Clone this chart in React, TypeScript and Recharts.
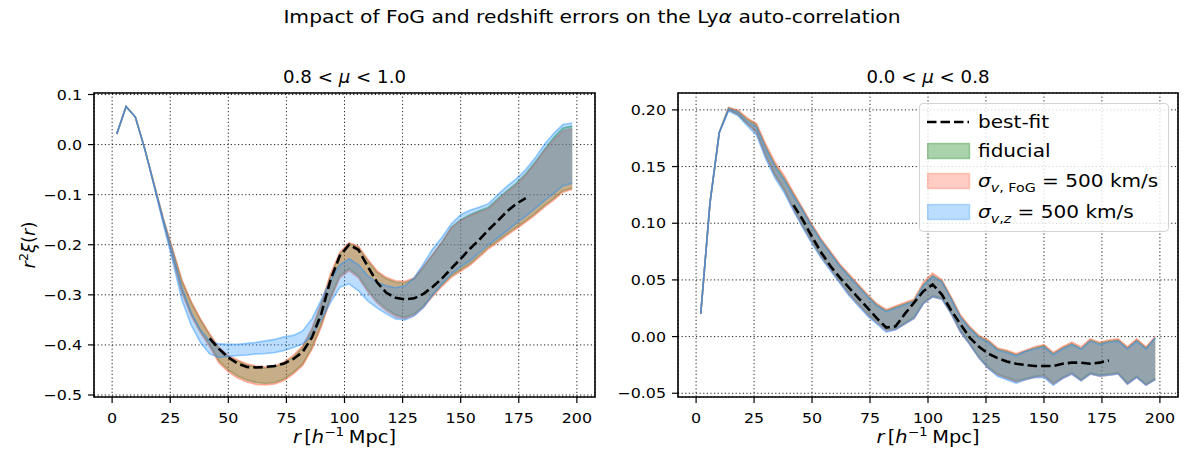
import React from 'react'
import {
  ComposedChart,
  Area,
  Line,
  XAxis,
  YAxis,
  CartesianGrid,
  ReferenceArea,
  Legend,
} from 'recharts'

// separation bins, h^-1 Mpc
const R = [
  2, 6, 10, 14, 18, 22, 26, 30, 34, 38, 42, 46, 50, 54, 58, 62, 66, 70, 74, 78, 82, 86, 90, 94, 98,
  102, 106, 110, 114, 118, 122, 126, 130, 134, 138, 142, 146, 150, 154, 158, 162, 166, 170, 174, 178,
  182, 186, 190, 194, 198,
]

// ---- left panel, 0.8 < mu < 1.0 ----
const L_FID_HI = [
  0.021, 0.076, 0.055, -0.008, -0.078, -0.148, -0.21, -0.272, -0.315, -0.35, -0.38, -0.408, -0.424,
  -0.432, -0.44, -0.444, -0.446, -0.444, -0.436, -0.424, -0.405, -0.37, -0.32, -0.262, -0.218, -0.198,
  -0.205, -0.232, -0.255, -0.268, -0.275, -0.276, -0.268, -0.245, -0.22, -0.195, -0.165, -0.15, -0.14,
  -0.132, -0.125, -0.108, -0.092, -0.077, -0.058, -0.035, -0.01, 0.014, 0.033, 0.037,
]
const L_FID_LO = [
  0.021, 0.076, 0.055, -0.008, -0.08, -0.152, -0.222, -0.292, -0.338, -0.372, -0.4, -0.432, -0.45,
  -0.462, -0.47, -0.475, -0.477, -0.475, -0.468, -0.455, -0.438, -0.405, -0.36, -0.305, -0.262, -0.248,
  -0.262, -0.29, -0.312, -0.328, -0.34, -0.345, -0.338, -0.322, -0.3, -0.28, -0.262, -0.25, -0.238,
  -0.222, -0.205, -0.192, -0.178, -0.165, -0.152, -0.138, -0.122, -0.108, -0.092, -0.087,
]
const L_FOG_HI = [
  0.021, 0.076, 0.055, -0.008, -0.077, -0.147, -0.208, -0.27, -0.313, -0.348, -0.378, -0.405, -0.421,
  -0.43, -0.438, -0.442, -0.444, -0.442, -0.434, -0.421, -0.402, -0.366, -0.316, -0.258, -0.215, -0.196,
  -0.203, -0.229, -0.252, -0.265, -0.272, -0.273, -0.266, -0.243, -0.219, -0.194, -0.166, -0.152, -0.142,
  -0.135, -0.128, -0.111, -0.095, -0.08, -0.061, -0.038, -0.013, 0.009, 0.027, 0.031,
]
const L_FOG_LO = [
  0.021, 0.076, 0.055, -0.008, -0.081, -0.154, -0.225, -0.296, -0.342, -0.376, -0.404, -0.436, -0.454,
  -0.466, -0.474, -0.479, -0.48, -0.478, -0.471, -0.458, -0.441, -0.409, -0.364, -0.309, -0.266, -0.252,
  -0.266, -0.294, -0.316, -0.332, -0.344, -0.348, -0.341, -0.325, -0.303, -0.283, -0.265, -0.253, -0.241,
  -0.225, -0.208, -0.195, -0.181, -0.168, -0.155, -0.141, -0.125, -0.111, -0.095, -0.089,
]
const L_Z_HI = [
  0.021, 0.076, 0.055, -0.008, -0.079, -0.15, -0.215, -0.285, -0.335, -0.37, -0.392, -0.398, -0.399,
  -0.399, -0.397, -0.395, -0.392, -0.389, -0.384, -0.381, -0.372, -0.348, -0.31, -0.27, -0.24, -0.228,
  -0.24, -0.262, -0.275, -0.282, -0.286, -0.282, -0.266, -0.238, -0.208, -0.185, -0.158, -0.14, -0.131,
  -0.125, -0.118, -0.1, -0.083, -0.068, -0.05, -0.027, 0.0, 0.022, 0.04, 0.043,
]
const L_Z_LO = [
  0.021, 0.076, 0.055, -0.008, -0.082, -0.158, -0.232, -0.31, -0.36, -0.395, -0.418, -0.425, -0.423,
  -0.421, -0.42, -0.418, -0.417, -0.415, -0.411, -0.405, -0.398, -0.382, -0.35, -0.315, -0.285, -0.278,
  -0.292, -0.312, -0.326, -0.338, -0.348, -0.35, -0.342, -0.325, -0.3, -0.278, -0.258, -0.244, -0.232,
  -0.216, -0.2, -0.186, -0.172, -0.157, -0.143, -0.128, -0.112, -0.098, -0.082, -0.077,
]
const L_BEST = [
  null, null, null, null, null, null, null, null, null, null,
  -0.387, -0.408, -0.425, -0.437, -0.444, -0.445, -0.444, -0.442, -0.437, -0.428, -0.414, -0.385, -0.338,
  -0.27, -0.222, -0.2, -0.21, -0.243, -0.275, -0.296, -0.306, -0.309, -0.307, -0.298, -0.284, -0.267,
  -0.247, -0.228, -0.208, -0.19, -0.17, -0.152, -0.133, -0.118, -0.107,
  null, null, null, null, null,
]

// ---- right panel, 0.0 < mu < 0.8 ----
const R_FID_HI = [
  0.02, 0.118, 0.18, 0.202, 0.199, 0.192, 0.187, 0.168, 0.152, 0.14, 0.126, 0.112, 0.098, 0.085, 0.074,
  0.063, 0.054, 0.045, 0.036, 0.028, 0.023, 0.026, 0.029, 0.032, 0.046, 0.054, 0.049, 0.034, 0.018, 0.008,
  0.0, -0.004, -0.011, -0.013, -0.016, -0.013, -0.01, -0.008, -0.015, -0.01, -0.006, -0.011, -0.003,
  -0.006, -0.004, -0.003, -0.01, -0.003, -0.01, -0.001,
]
const R_FID_LO = [
  0.02, 0.118, 0.18, 0.2, 0.196, 0.188, 0.181, 0.16, 0.143, 0.13, 0.113, 0.098, 0.084, 0.071, 0.06,
  0.049, 0.038, 0.029, 0.02, 0.013, 0.006, 0.007, 0.012, 0.017, 0.03, 0.036, 0.034, 0.021, 0.005, -0.006,
  -0.018, -0.027, -0.033, -0.036, -0.039, -0.037, -0.035, -0.034, -0.041, -0.036, -0.032, -0.038,
  -0.032, -0.034, -0.033, -0.032, -0.041, -0.035, -0.042, -0.037,
]
const R_FOG_HI = [
  0.02, 0.118, 0.18, 0.202, 0.2, 0.193, 0.188, 0.17, 0.154, 0.142, 0.127, 0.113, 0.099, 0.086, 0.075,
  0.064, 0.055, 0.046, 0.037, 0.029, 0.024, 0.027, 0.03, 0.033, 0.048, 0.056, 0.05, 0.035, 0.019, 0.009,
  0.001, -0.003, -0.01, -0.012, -0.015, -0.012, -0.009, -0.007, -0.014, -0.009, -0.005, -0.009, -0.002,
  -0.005, -0.003, -0.002, -0.009, -0.002, -0.009, 0.0,
]
const R_FOG_LO = [
  0.02, 0.118, 0.18, 0.2, 0.196, 0.188, 0.18, 0.159, 0.142, 0.129, 0.112, 0.097, 0.083, 0.07, 0.059,
  0.048, 0.037, 0.028, 0.019, 0.012, 0.005, 0.006, 0.011, 0.016, 0.029, 0.035, 0.033, 0.02, 0.004,
  -0.007, -0.019, -0.028, -0.034, -0.037, -0.04, -0.038, -0.036, -0.035, -0.042, -0.037, -0.033, -0.039,
  -0.033, -0.035, -0.034, -0.033, -0.042, -0.036, -0.043, -0.038,
]
const R_Z_HI = [
  0.02, 0.118, 0.18, 0.201, 0.198, 0.19, 0.185, 0.166, 0.15, 0.138, 0.124, 0.111, 0.097, 0.084, 0.073,
  0.062, 0.053, 0.044, 0.035, 0.027, 0.022, 0.025, 0.028, 0.031, 0.045, 0.053, 0.048, 0.033, 0.017, 0.007,
  -0.001, -0.005, -0.012, -0.014, -0.017, -0.013, -0.011, -0.009, -0.016, -0.011, -0.007, -0.011,
  -0.004, -0.007, -0.005, -0.004, -0.011, -0.004, -0.011, -0.001,
]
const R_Z_LO = [
  0.02, 0.118, 0.18, 0.199, 0.195, 0.186, 0.178, 0.157, 0.14, 0.127, 0.111, 0.096, 0.082, 0.069, 0.058,
  0.047, 0.036, 0.027, 0.018, 0.011, 0.004, 0.006, 0.011, 0.016, 0.029, 0.035, 0.033, 0.02, 0.004,
  -0.007, -0.019, -0.028, -0.035, -0.038, -0.041, -0.038, -0.036, -0.036, -0.043, -0.037, -0.033, -0.039,
  -0.033, -0.035, -0.034, -0.033, -0.042, -0.036, -0.043, -0.038,
]
const R_BEST = [
  null, null, null, null, null, null, null, null, null, null,
  0.116, 0.103, 0.088, 0.074, 0.062, 0.052, 0.043, 0.034, 0.025, 0.016, 0.008, 0.009, 0.02, 0.03, 0.04,
  0.046, 0.037, 0.023, 0.011, -0.001, -0.009, -0.015, -0.019, -0.022, -0.024, -0.025, -0.026, -0.026,
  -0.026, -0.024, -0.023, -0.023, -0.024, -0.023, -0.021,
  null, null, null, null, null,
]

const X_TICKS = [0, 25, 50, 75, 100, 125, 150, 175, 200]
const X_DOMAIN: [number, number] = [-7.8, 207.8]
const L_TICKS = [-0.5, -0.4, -0.3, -0.2, -0.1, 0.0, 0.1]
const R_TICKS = [-0.05, 0.0, 0.05, 0.1, 0.15, 0.2]

const FID_COLOR = '#228b22'
const FOG_COLOR = '#ff6347'
const Z_COLOR = '#1e90ff'
const FONT = '"DejaVu Sans", sans-serif'
// the source figure's text is a bit wider than plain DejaVu Sans
const SX = 1.14

const buildData = (
  fidLo: number[], fidHi: number[], fogLo: number[], fogHi: number[],
  zLo: number[], zHi: number[], best: (number | null)[],
) =>
  R.map((r, i) => ({
    r,
    fid: [fidLo[i], fidHi[i]],
    fog: [fogLo[i], fogHi[i]],
    z: [zLo[i], zHi[i]],
    best: best[i],
  }))

const leftData = buildData(L_FID_LO, L_FID_HI, L_FOG_LO, L_FOG_HI, L_Z_LO, L_Z_HI, L_BEST)
const rightData = buildData(R_FID_LO, R_FID_HI, R_FOG_LO, R_FOG_HI, R_Z_LO, R_Z_HI, R_BEST)

const minus = (s: string) => s.replace('-', '\u2212')

const makeTick = (axis: 'x' | 'y', digits: number) => (props: any) => {
  const { x, y, payload } = props
  const label = axis === 'x' ? String(payload.value) : minus(Number(payload.value).toFixed(digits))
  return (
    <g transform={`translate(${x} ${y}) scale(${SX} 1)`}>
      <text
        x={0}
        y={0}
        textAnchor={axis === 'x' ? 'middle' : 'end'}
        dy={axis === 'x' ? '0.71em' : '0.36em'}
        fontSize={13.9}
        fill="#000"
      >
        {label}
      </text>
    </g>
  )
}

const SText = ({ x, y, size, sx = SX, children }: { x: number; y: number; size: number; sx?: number; children: React.ReactNode }) => (
  <g transform={`translate(${x} ${y}) scale(${sx} 1)`}>
    <text x={0} y={0} textAnchor="middle" fontSize={size} fill="#000">
      {children}
    </text>
  </g>
)

const LegendBox = () => {
  const row = (top: number, sym: React.ReactNode, label: React.ReactNode) => (
    <div style={{ position: 'absolute', left: 0, top, height: 30, width: '100%' }}>
      <svg width={44} height={30} style={{ position: 'absolute', left: 7, top: 0 }}>{sym}</svg>
      <div
        style={{
          position: 'absolute', left: 58, top: 3, fontSize: 17.6, lineHeight: '24px', whiteSpace: 'nowrap',
          transform: `scaleX(${SX})`, transformOrigin: 'left center',
        }}
      >
        {label}
      </div>
    </div>
  )
  const swatch = (c: string, op: number) => (
    <rect x={0.5} y={7.5} width={42} height={15} fill={c} fillOpacity={op} stroke={c} strokeOpacity={op} strokeWidth={1.5} />
  )
  return (
    <div
      style={{
        position: 'relative', width: 250, height: 129, boxSizing: 'border-box',
        border: '1px solid #d3d3d3', borderRadius: 4, background: 'rgba(255,255,255,0.8)',
        fontFamily: FONT, color: '#000',
      }}
    >
      {row(3, <line x1={0} y1={15} x2={42} y2={15} stroke="#000" strokeWidth={2.6} strokeDasharray="9.5 4" />, 'best-fit')}
      {row(32, swatch(FID_COLOR, 0.38), 'fiducial')}
      {row(62, swatch(FOG_COLOR, 0.32), (
        <span><i>σ</i><sub style={{ fontSize: 12.5 }}><i>v</i>, FoG</sub> = 500 km/s</span>
      ))}
      {row(93, swatch(Z_COLOR, 0.3), (
        <span><i>σ</i><sub style={{ fontSize: 12.5 }}><i>v</i>,<i>z</i></sub> = 500 km/s</span>
      ))}
    </div>
  )
}

interface PanelProps {
  data: ReturnType<typeof buildData>
  yDomain: [number, number]
  yTicks: number[]
  digits: number
  width: number
  yAxisWidth: number
  rightMargin: number
  showLegend?: boolean
}

const Panel: React.FC<PanelProps> = ({ data, yDomain, yTicks, digits, width, yAxisWidth, rightMargin, showLegend }) => (
  <ComposedChart
    width={width}
    height={458}
    data={data}
    margin={{ top: 93, right: rightMargin, bottom: 0, left: 0 }}
    style={{ fontFamily: FONT }}
  >
    <XAxis
      dataKey="r"
      type="number"
      domain={X_DOMAIN}
      ticks={X_TICKS}
      allowDataOverflow
      height={61}
      axisLine={false}
      tickSize={6}
      tickMargin={10}
      tickLine={{ stroke: '#000', strokeWidth: 1.2 }}
      tick={makeTick('x', 0)}
    />
    <YAxis
      type="number"
      domain={yDomain}
      ticks={yTicks}
      allowDataOverflow
      width={yAxisWidth}
      axisLine={false}
      tickSize={6}
      tickMargin={6}
      tickLine={{ stroke: '#000', strokeWidth: 1.2 }}
      tick={makeTick('y', digits)}
    />
    <Area type="linear" dataKey="fid" fill={FID_COLOR} fillOpacity={0.38} stroke={FID_COLOR} strokeOpacity={0.45} strokeWidth={1.6} dot={false} activeDot={false} isAnimationActive={false} />
    <Area type="linear" dataKey="fog" fill={FOG_COLOR} fillOpacity={0.34} stroke={FOG_COLOR} strokeOpacity={0.45} strokeWidth={1.6} dot={false} activeDot={false} isAnimationActive={false} />
    <Area type="linear" dataKey="z" fill={Z_COLOR} fillOpacity={0.3} stroke={Z_COLOR} strokeOpacity={0.45} strokeWidth={1.6} dot={false} activeDot={false} isAnimationActive={false} />
    <CartesianGrid stroke="#222" strokeWidth={1} strokeDasharray="1.2 2.4" />
    <Line type="linear" dataKey="best" stroke="#000" strokeWidth={2.6} strokeDasharray="9.5 4" dot={false} activeDot={false} isAnimationActive={false} />
    <ReferenceArea x1={X_DOMAIN[0]} x2={X_DOMAIN[1]} y1={yDomain[0]} y2={yDomain[1]} fill="none" stroke="#000" strokeWidth={1.6} ifOverflow="visible" />
    {showLegend && (
      <Legend
        layout="vertical"
        align="center"
        verticalAlign="middle"
        content={() => <LegendBox />}
        wrapperStyle={{ left: 319, top: 103, width: 250, height: 129 }}
      />
    )}
  </ComposedChart>
)

const XLabel = ({ x }: { x: number }) => (
  <SText x={x} y={443} size={17}>
    <tspan fontStyle="italic">r</tspan>
    <tspan dx={3}>[</tspan>
    <tspan fontStyle="italic">h</tspan>
    <tspan dy={-7} fontSize={12}>{'\u22121'}</tspan>
    <tspan dy={7} dx={4}>Mpc]</tspan>
  </SText>
)

const SubTitle = ({ x, lo, hi }: { x: number; lo: string; hi: string }) => (
  <SText x={x} y={82.5} size={17} sx={1.07}>
    {lo} &lt; <tspan fontStyle="italic">μ</tspan> &lt; {hi}
  </SText>
)

export default function App() {
  return (
    <div style={{ position: 'absolute', left: 0, top: 0, width: 1190, height: 458, background: '#fff', fontFamily: FONT }}>
      <div style={{ position: 'absolute', left: 0, top: 0 }}>
        <Panel data={leftData} yDomain={[-0.504, 0.103]} yTicks={L_TICKS} digits={1} width={600} yAxisWidth={94} rightMargin={5} />
      </div>
      <div style={{ position: 'absolute', left: 600, top: 0 }}>
        <Panel data={rightData} yDomain={[-0.0533, 0.2149]} yTicks={R_TICKS} digits={2} width={590} yAxisWidth={78} rightMargin={12} showLegend />
      </div>
      <svg width={1190} height={458} style={{ position: 'absolute', left: 0, top: 0, pointerEvents: 'none', fontFamily: FONT }}>
        <SText x={592} y={22.5} size={17.8}>
          Impact of FoG and redshift errors on the Ly<tspan fontStyle="italic">α</tspan> auto-correlation
        </SText>
        <SubTitle x={344.5} lo="0.8" hi="1.0" />
        <SubTitle x={928} lo="0.0" hi="0.8" />
        <XLabel x={344.5} />
        <XLabel x={928} />
        <text transform="rotate(-90, 34.5, 245)" x={34.5} y={245} textAnchor="middle" fontSize={18}>
          <tspan fontStyle="italic">r</tspan>
          <tspan dy={-7} fontSize={12.6}>2</tspan>
          <tspan dy={7} fontStyle="italic">ξ</tspan>
          <tspan>(</tspan>
          <tspan fontStyle="italic">r</tspan>
          <tspan>)</tspan>
        </text>
      </svg>
    </div>
  )
}
